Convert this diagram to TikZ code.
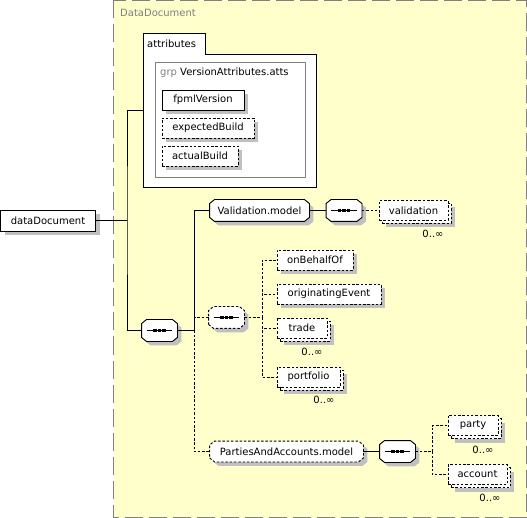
\documentclass[tikz,border=0pt]{standalone}
\usepackage{fontspec}
\setmainfont{DejaVu Sans}
\usetikzlibrary{positioning,calc}
\definecolor{xsdyellow}{RGB}{255,255,204}
\definecolor{xsdgray}{RGB}{128,128,128}
\definecolor{xsdshade}{RGB}{192,192,192}

\makeatletter
\pgfdeclareshape{cutbox}{
	\inheritsavedanchors[from=rectangle]
	\inheritanchorborder[from=rectangle]
	\inheritanchor[from=rectangle]{center}
	\inheritanchor[from=rectangle]{north}
	\inheritanchor[from=rectangle]{south}
	\inheritanchor[from=rectangle]{east}
	\inheritanchor[from=rectangle]{west}
	\inheritanchor[from=rectangle]{north east}
	\inheritanchor[from=rectangle]{north west}
	\inheritanchor[from=rectangle]{south east}
	\inheritanchor[from=rectangle]{south west}
	\inheritanchor[from=rectangle]{base}
	\inheritanchor[from=rectangle]{mid}
	\backgroundpath{
		\southwest \edef\cbxa{\the\pgf@x}\edef\cbya{\the\pgf@y}
		\northeast \edef\cbxb{\the\pgf@x}\edef\cbyb{\the\pgf@y}
		\pgfpathmoveto{\pgfpointadd{\pgfqpoint{\cbxa}{\cbya}}{\pgfqpoint{0pt}{4pt}}}
		\pgfpathlineto{\pgfpointadd{\pgfqpoint{\cbxa}{\cbya}}{\pgfqpoint{5pt}{0pt}}}
		\pgfpathlineto{\pgfpointadd{\pgfqpoint{\cbxb}{\cbya}}{\pgfqpoint{-5pt}{0pt}}}
		\pgfpathlineto{\pgfpointadd{\pgfqpoint{\cbxb}{\cbya}}{\pgfqpoint{0pt}{4pt}}}
		\pgfpathlineto{\pgfpointadd{\pgfqpoint{\cbxb}{\cbyb}}{\pgfqpoint{0pt}{-4pt}}}
		\pgfpathlineto{\pgfpointadd{\pgfqpoint{\cbxb}{\cbyb}}{\pgfqpoint{-5pt}{0pt}}}
		\pgfpathlineto{\pgfpointadd{\pgfqpoint{\cbxa}{\cbyb}}{\pgfqpoint{5pt}{0pt}}}
		\pgfpathlineto{\pgfpointadd{\pgfqpoint{\cbxa}{\cbyb}}{\pgfqpoint{0pt}{-4pt}}}
		\pgfpathclose
	}
}
\makeatother

\tikzset{font=\fontsize{10}{12}\selectfont}
\tikzset{
	conn/.style={line width=0.9pt},
	opt/.style={dash pattern=on 2.5pt off 1.8pt},
	elem/.style={draw, fill=white, line width=0.9pt, inner sep=1pt, minimum height=20pt,
		preaction={draw=none, fill=xsdshade, transform canvas={shift={(4pt,-4pt)}}}},
	multi/.style={draw, fill=white, line width=0.9pt, inner sep=1pt, minimum height=20pt, opt,
		preaction={draw=none, fill=xsdshade, transform canvas={shift={(7pt,-7pt)}}},
		preaction={draw, fill=white, line width=0.9pt, opt, transform canvas={shift={(3pt,-3pt)}}}},
	grpref/.style={elem, shape=cutbox},
	seqbox/.style={grpref, minimum width=35pt, minimum height=21pt,
		path picture={
			\draw[black, solid, line width=0.9pt] ([xshift=5pt]path picture bounding box.west) -- ([xshift=-5pt]path picture bounding box.east);
			\foreach \dx in {-4.5,0,4.5}
				\fill[black] ([xshift=\dx pt]path picture bounding box.center) +(-1.6pt,-1.6pt) rectangle +(1.6pt,1.6pt);
		}},
	card/.style={inner sep=0pt},
}

\begin{document}
\begin{tikzpicture}[x=1pt, y=-1pt]
	\useasboundingbox (0,0) rectangle (527,518);
	\draw[xsdgray, line width=1.2pt, dash pattern=on 18pt off 6pt, fill=xsdyellow] (113.5,0.5) rectangle (526.5,517.5);
	\node[anchor=west, text=xsdgray, inner sep=0pt] (ddLabel) at (120,13) {DataDocument};

	\draw[fill=white, line width=0.9pt] (143,33) -- (205,33) -- (205,54) -- (316,54) -- (316,187) -- (143,187) -- cycle;
	\node[anchor=west, inner sep=0pt] (attrLabel) at (147,43.5) {attributes};
	\node[draw=xsdgray, line width=0.9pt, minimum width=150pt, minimum height=115pt] (grp) at (230,119.5) {};
	\node[anchor=west, inner sep=0pt] (grpLabel) at (160,72.5) {\textcolor{xsdgray}{grp} VersionAttributes.atts};

	\node[elem, minimum width=82pt] (fpmlVersion) at (203,100) {fpmlVersion};
	\node[elem, opt, minimum width=92pt] (expectedBuild) at (208,128) {expectedBuild};
	\node[elem, opt, minimum width=76pt] (actualBuild) at (200,156) {actualBuild};

	\node[elem, minimum width=95pt, minimum height=21pt] (dataDocument) at (48,220.5) {dataDocument};
	\coordinate (attrs) at (143,110);
	\coordinate (br1) at (127,220.5);
	\node[seqbox] (seqMain) at (159.5,330.5) {};
	\coordinate (br2) at (194,330.5);

	\node[grpref, minimum width=99pt, minimum height=21pt] (validationModel) at (259.5,210.5) {Validation.model};
	\node[seqbox] (seqValidation) at (344,210.5) {};
	\node[multi, minimum width=69pt] (validation) at (413.5,210.5) {validation};
	\node[card] (validationCard) at (433,234) {0..∞};

	\node[seqbox, opt] (seqChoice) at (226.5,317.5) {};
	\coordinate (br3) at (262,317.5);
	\node[elem, opt, minimum width=76pt] (onBehalfOf) at (315,260) {onBehalfOf};
	\node[elem, opt, minimum width=104pt] (originatingEvent) at (329,294) {originatingEvent};
	\node[multi, minimum width=50pt] (trade) at (302,328) {trade};
	\node[card] (tradeCard) at (312,352) {0..∞};
	\node[multi, minimum width=63pt] (portfolio) at (308.5,377) {portfolio};
	\node[card] (portfolioCard) at (324,400) {0..∞};

	\node[grpref, opt, minimum width=153pt] (partiesModel) at (286.5,451.5) {PartiesAndAccounts.model};
	\node[seqbox] (seqParties) at (397.5,451.5) {};
	\coordinate (br4) at (432,451.5);
	\node[multi, minimum width=50pt] (party) at (473,425.5) {party};
	\node[card] (partyCard) at (483,450) {0..∞};
	\node[multi, minimum width=59pt] (account) at (477.5,474.5) {account};
	\node[card] (accountCard) at (490,498) {0..∞};

	\draw[conn] (dataDocument) -- (br1);
	\draw[conn] (attrs) -| (br1) |- (seqMain);
	\draw[conn] (seqMain) -- (br2);
	\draw[conn] (br2) |- (validationModel);
	\draw[conn, opt] (br2) |- (partiesModel);
	\draw[conn, opt] (seqChoice) -| (br2);
	\draw[conn] (validationModel) -- (seqValidation);
	\draw[conn, opt] (seqValidation) -- (validation);
	\draw[conn, opt] (seqChoice) -- (br3);
	\foreach \e in {onBehalfOf, originatingEvent, trade, portfolio}
		\draw[conn, opt] (br3) |- (\e);
	\draw[conn] (partiesModel) -- (seqParties);
	\draw[conn, opt] (seqParties) -- (br4);
	\foreach \e in {party, account}
		\draw[conn, opt] (br4) |- (\e);
\end{tikzpicture}
\end{document}
